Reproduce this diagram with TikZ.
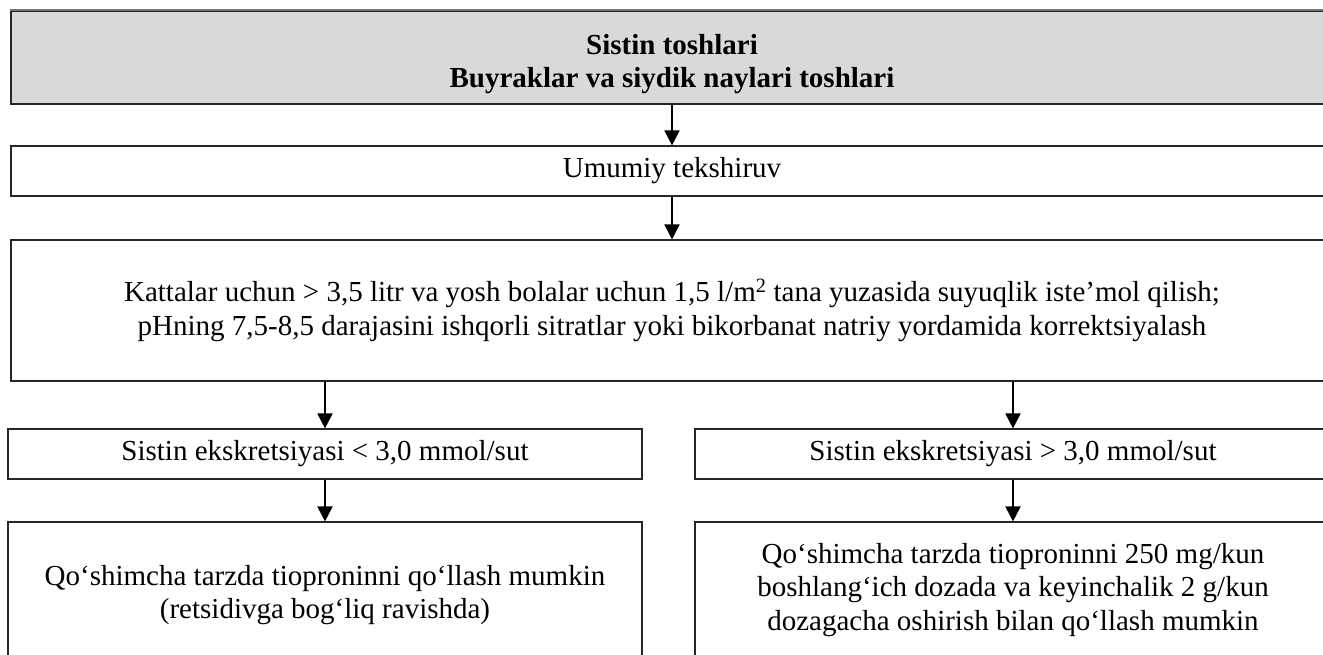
\documentclass[tikz,border=0pt]{standalone}
\usepackage{fontspec}
\setmainfont{Liberation Serif}
\usetikzlibrary{arrows.meta}

\tikzset{
  box/.style={draw=black!85, line width=1.2pt, rectangle, align=center,
    inner sep=0pt, font=\fontsize{29}{33.5}\selectfont},
  widebox/.style={box, minimum width=1322pt},
  halfbox/.style={box, minimum width=634pt},
  flow/.style={line width=2pt, -{Triangle[width=15pt,length=15pt]}}
}

\begin{document}
\begin{tikzpicture}[x=1pt,y=-1pt]
  \useasboundingbox (0,0) rectangle (1323,654);
  \clip (0,0) rectangle (1323,654);

  % header
  \node[widebox, fill=black!15, minimum height=93pt, font=\fontsize{29}{33.5}\selectfont\bfseries]
    (head) at (672,57.5) {\rule{0pt}{33pt}Sistin toshlari\\Buyraklar va siydik naylari toshlari};
  \draw[black!55, line width=2pt] (head.north west) -- (head.north east);

  % general examination
  \node[widebox, minimum height=50pt] (exam) at (672,171) {Umumiy tekshiruv};

  % fluid intake and pH
  \node[widebox, minimum height=141pt] (fluid) at (672,310.5)
    {Kattalar uchun > 3,5 litr va yosh bolalar uchun 1,5 l/m\textsuperscript{2} tana yuzasida suyuqlik iste’mol qilish;\\
     pHning 7,5-8,5 darajasini ishqorli sitratlar yoki bikorbanat natriy yordamida korrektsiyalash};

  % excretion branches
  \node[halfbox, minimum height=50pt] (low) at (325,454) {Sistin ekskretsiyasi < 3,0 mmol/sut};
  \node[halfbox, minimum width=636pt, minimum height=50pt] (high) at (1013,454) {Sistin ekskretsiyasi > 3,0 mmol/sut};

  % treatment
  \node[halfbox, minimum height=136pt] (lowtx) at (325,590)
    {\rule{0pt}{30pt}Qo‘shimcha tarzda tioproninni qo‘llash mumkin\\(retsidivga bog‘liq ravishda)};
  \node[halfbox, minimum width=636pt, minimum height=136pt] (hightx) at (1013,590)
    {Qo‘shimcha tarzda tioproninni 250 mg/kun\\boshlang‘ich dozada va keyinchalik 2 g/kun\\dozagacha oshirish bilan qo‘llash mumkin};

  % connectors
  \draw[flow] (head.south) -- (exam.north);
  \draw[flow] (exam.south) -- (fluid.north);
  \draw[flow] (fluid.south -| low.north) -- (low.north);
  \draw[flow] (fluid.south -| high.north) -- (high.north);
  \draw[flow] (low.south) -- (lowtx.north);
  \draw[flow] (high.south) -- (hightx.north);
\end{tikzpicture}
\end{document}
